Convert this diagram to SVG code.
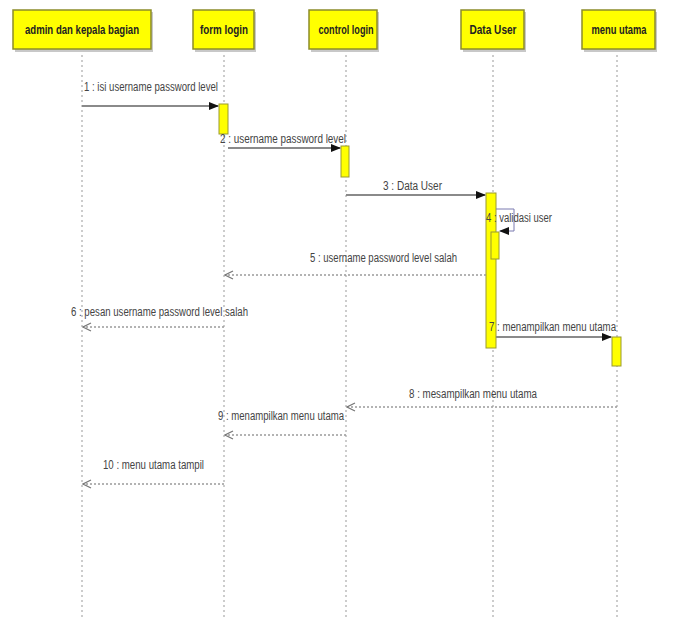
<svg xmlns="http://www.w3.org/2000/svg" width="674" height="624" viewBox="0 0 674 624">
<style>
.hdr{fill:#ffff00;stroke:#8c8c2a;stroke-width:1.5}
.shadow{fill:#c8c8c8}
.ht{font-family:"Liberation Sans",Arial,sans-serif;font-size:12px;font-weight:bold;fill:#222;text-anchor:middle}
.life{stroke:#999;stroke-width:1;stroke-dasharray:2,3;fill:none}
.act{fill:#ffff00;stroke:#9a9a30;stroke-width:1}
.msg{stroke:#8a8a8a;stroke-width:2;fill:none}
.ret{stroke:#9a9a9a;stroke-width:1.5;stroke-dasharray:2,2;fill:none}
.lbl{font-family:"Liberation Sans",Arial,sans-serif;font-size:12px;fill:#444}
</style>
<defs>
<marker id="filled" markerWidth="10" markerHeight="8" refX="9" refY="4" orient="auto" markerUnits="userSpaceOnUse">
<path d="M0,0 L10,4 L0,8 Z" fill="#111"/>
</marker>
<marker id="open" markerWidth="10" markerHeight="10" refX="9" refY="5" orient="auto" markerUnits="userSpaceOnUse">
<path d="M1,1 L9,5 L1,9" fill="none" stroke="#777" stroke-width="1.2"/>
</marker>
</defs>
<rect width="674" height="624" fill="#ffffff"/>

<g id="lifelines">
<line class="life" x1="82" y1="50" x2="82" y2="620"/>
<line class="life" x1="224" y1="50" x2="224" y2="620"/>
<line class="life" x1="346" y1="50" x2="346" y2="620"/>
<line class="life" x1="493" y1="50" x2="493" y2="620"/>
<line class="life" x1="617" y1="50" x2="617" y2="620"/>
</g>

<g id="admin">
<rect class="shadow" x="15" y="12" width="138" height="40"/>
<rect class="hdr" x="13" y="10" width="138" height="39"/>
<text class="ht" x="82" y="34" textLength="114" lengthAdjust="spacingAndGlyphs">admin dan kepala bagian</text>
</g>
<g id="formlogin">
<rect class="shadow" x="195" y="12" width="61" height="40"/>
<rect class="hdr" x="193" y="10" width="61" height="39"/>
<text class="ht" x="224" y="34" textLength="48" lengthAdjust="spacingAndGlyphs">form login</text>
</g>
<g id="controllogin">
<rect class="shadow" x="311" y="12" width="68" height="40"/>
<rect class="hdr" x="309" y="10" width="68" height="39"/>
<text class="ht" x="346" y="34" textLength="55" lengthAdjust="spacingAndGlyphs">control login</text>
</g>
<g id="datauser">
<rect class="shadow" x="463" y="12" width="63" height="40"/>
<rect class="hdr" x="461" y="10" width="63" height="39"/>
<text class="ht" x="493" y="34" textLength="47" lengthAdjust="spacingAndGlyphs">Data User</text>
</g>
<g id="menuutama">
<rect class="shadow" x="584" y="12" width="73" height="40"/>
<rect class="hdr" x="582" y="10" width="73" height="39"/>
<text class="ht" x="619" y="34" textLength="55" lengthAdjust="spacingAndGlyphs">menu utama</text>
</g>

<g id="activations">
<rect class="act" x="219" y="104" width="9" height="30"/>
<rect class="act" x="341" y="146" width="8" height="31"/>
<rect class="act" x="486" y="193" width="10" height="155"/>
<rect class="act" x="491" y="232" width="8" height="27"/>
<rect class="act" x="612" y="337" width="9" height="29"/>
</g>

<g id="connectors">
<line class="msg" x1="82" y1="106" x2="218" y2="106" marker-end="url(#filled)"/>
<line class="msg" x1="228" y1="148" x2="340" y2="148" marker-end="url(#filled)"/>
<line class="msg" x1="346" y1="195" x2="485" y2="195" marker-end="url(#filled)"/>
<path d="M496,209 H514 V231 H500" fill="none" stroke="#7a7ab0" stroke-width="1" marker-end="url(#filled)"/>
<line class="ret" x1="486" y1="275" x2="225" y2="275" marker-end="url(#open)"/>
<line class="ret" x1="224" y1="327" x2="83" y2="327" marker-end="url(#open)"/>
<line class="msg" x1="496" y1="337" x2="611" y2="337" marker-end="url(#filled)"/>
<line class="ret" x1="617" y1="407" x2="347" y2="407" marker-end="url(#open)"/>
<line class="ret" x1="346" y1="435" x2="225" y2="435" marker-end="url(#open)"/>
<line class="ret" x1="224" y1="484" x2="83" y2="484" marker-end="url(#open)"/>
</g>

<g id="labels">
<text class="lbl" x="84" y="91" textLength="134" lengthAdjust="spacingAndGlyphs">1 : isi username password level</text>
<text class="lbl" x="220" y="143" textLength="126" lengthAdjust="spacingAndGlyphs">2 : username password level</text>
<text class="lbl" x="383" y="190" textLength="59" lengthAdjust="spacingAndGlyphs">3 : Data User</text>
<text class="lbl" x="486" y="222" textLength="66" lengthAdjust="spacingAndGlyphs">4 : validasi user</text>
<text class="lbl" x="310" y="262" textLength="147" lengthAdjust="spacingAndGlyphs">5 : username password level salah</text>
<text class="lbl" x="71" y="316" textLength="177" lengthAdjust="spacingAndGlyphs">6 : pesan username password level salah</text>
<text class="lbl" x="489" y="331" textLength="127" lengthAdjust="spacingAndGlyphs">7 : menampilkan menu utama</text>
<text class="lbl" x="409" y="398" textLength="128" lengthAdjust="spacingAndGlyphs">8 : mesampilkan menu utama</text>
<text class="lbl" x="218" y="420" textLength="126" lengthAdjust="spacingAndGlyphs">9 : menampilkan menu utama</text>
<text class="lbl" x="103" y="469" textLength="101" lengthAdjust="spacingAndGlyphs">10 : menu utama tampil</text>
</g>
</svg>
